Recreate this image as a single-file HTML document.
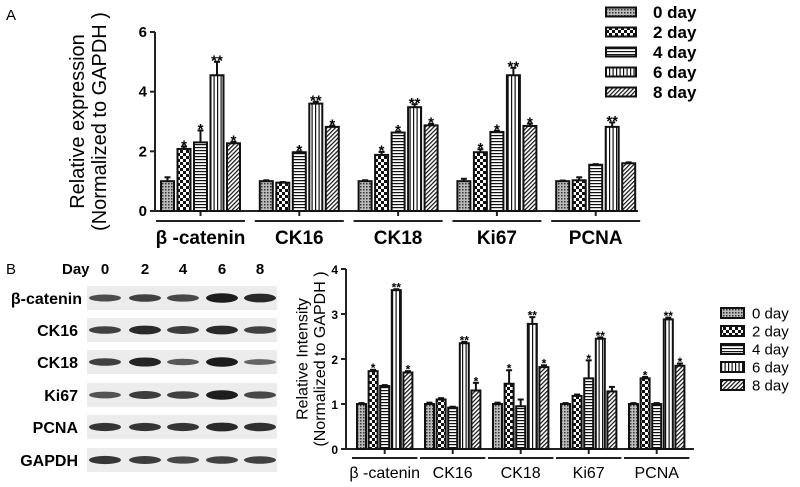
<!DOCTYPE html>
<html><head><meta charset="utf-8"><style>
body{margin:0;background:#fff;}
svg{display:block;font-family:"Liberation Sans",sans-serif;}
</style></head><body>
<svg id="fig" width="800" height="487" viewBox="0 0 800 487">
<defs>
<pattern id="p0" width="3" height="3" patternUnits="userSpaceOnUse"><rect width="3" height="3" fill="#bbb"/><rect width="1.5" height="1.5" fill="#333"/></pattern>
<pattern id="p1" width="6" height="6" patternUnits="userSpaceOnUse"><rect width="6" height="6" fill="#fff"/><rect width="3" height="3" fill="#111"/><rect x="3" y="3" width="3" height="3" fill="#111"/></pattern>
<pattern id="p2" width="4" height="3" patternUnits="userSpaceOnUse"><rect width="4" height="3" fill="#fff"/><rect width="4" height="1.2" fill="#111"/></pattern>
<pattern id="p3" width="3.5" height="4" patternUnits="userSpaceOnUse"><rect width="3.5" height="4" fill="#fff"/><rect width="1.2" height="4" fill="#111"/></pattern>
<pattern id="p4" width="3" height="3" patternUnits="userSpaceOnUse" patternTransform="rotate(45)"><rect width="3" height="3" fill="#fff"/><rect width="1.2" height="3" fill="#111"/></pattern>
</defs>
<text x="6" y="20" font-size="15">A</text>
<text x="6" y="274" font-size="15">B</text>
<g id="chartA"></g>
<g id="chartB"></g>
<g id="blot"></g>
</svg>
<script>
const categories = ["β -catenin","CK16","CK18","Ki67","PCNA"];
const seriesNames = ["0 day","2 day","4 day","6 day","8 day"];
const aValues = [[1.0,2.08,2.3,4.55,2.27],[1.0,0.95,1.97,3.6,2.82],[1.0,1.88,2.63,3.48,2.87],[1.0,1.97,2.65,4.55,2.85],[1.0,1.03,1.55,2.82,1.6]];
const aErrors = [[0.13,0.08,0.4,0.45,0.05],[0.03,0.02,0.03,0.06,0.04],[0.03,0.1,0.04,0.1,0.05],[0.08,0.1,0.04,0.25,0.08],[0.02,0.1,0.02,0.15,0.03]];
const aSig = [["","*","*","**","*"],["","","*","**","*"],["","*","*","**","*"],["","*","*","**","*"],["","","","**",""]];
const aTicks = [0,2,4,6];
const bValues = [[1.0,1.73,1.4,3.53,1.7],[1.0,1.1,0.92,2.35,1.3],[1.0,1.45,0.95,2.78,1.82],[1.0,1.18,1.57,2.45,1.28],[1.0,1.57,1.0,2.88,1.85]];
const bErrors = [[0.02,0.03,0.02,0.02,0.03],[0.03,0.03,0.02,0.03,0.17],[0.03,0.3,0.15,0.15,0.04],[0.02,0.03,0.4,0.03,0.1],[0.02,0.03,0.02,0.04,0.05]];
const bSig = [["","*","","**","*"],["","","","**","*"],["","*","","**","*"],["","","*","**",""],["","*","","**","*"]];
const bTicks = [0,1,2,3,4];
const blotRows = ["β-catenin","CK16","CK18","Ki67","PCNA","GAPDH"];
const blotDays = ["0","2","4","6","8"];
const blotIntensity = [[0.5,0.6,0.55,0.9,0.8],[0.6,0.8,0.65,0.8,0.6],[0.6,0.85,0.4,0.9,0.3],[0.45,0.65,0.6,0.9,0.55],[0.7,0.7,0.7,0.8,0.75],[0.7,0.65,0.55,0.6,0.6]];

const NS="http://www.w3.org/2000/svg";
function mk(parent,tag,attrs){const e=document.createElementNS(NS,tag);for(const k in attrs)e.setAttribute(k,attrs[k]);parent.appendChild(e);return e;}

function drawChart(g,cfg){
  const y=v=>cfg.y0-(v/cfg.max)*(cfg.y0-cfg.yTop);
  const xBar=(gi,si)=>cfg.x0+gi*cfg.gPitch+si*cfg.bPitch;
  const ax=mk(g,'line',{x1:cfg.axX,y1:y(cfg.max),x2:cfg.axX,y2:cfg.y0,stroke:'#222','stroke-width':2});
  
  
  const bx=mk(g,'line',{x1:cfg.axX,y1:cfg.y0,x2:cfg.xEnd,y2:cfg.y0,stroke:'#222','stroke-width':2});
  
  
  cfg.ticks.forEach(t=>{
    mk(g,'line',{x1:cfg.axX-5,y1:y(t),x2:cfg.axX,y2:y(t),stroke:'#222','stroke-width':2});
    const tl=mk(g,'text',{x:cfg.axX-8,y:y(t)+5,'font-size':cfg.tickFs,'font-weight':'bold','text-anchor':'end'});
    tl.textContent=t;
    
    
  });
  const yt=mk(g,'text',{transform:`translate(${cfg.titleX},${(cfg.y0+y(cfg.max))/2}) rotate(-90)`,'font-size':cfg.titleFs,'text-anchor':'middle'});
  
  
  const t1=mk(yt,'tspan',{x:0,dy:-cfg.titleFs*0.15});t1.textContent=cfg.title1;
  const t2=mk(yt,'tspan',{x:0,dy:cfg.titleFs*1.1});t2.textContent="(Normalized to GAPDH )";
  cfg.values.forEach((grp,gi)=>{
    const gx0=xBar(gi,0), gx1=xBar(gi,4)+cfg.bw;
    const mid=(gx0+gx1)/2;
    mk(g,'line',{x1:mid,y1:cfg.y0,x2:mid,y2:cfg.y0+5,stroke:'#222','stroke-width':2});
    const ul=mk(g,'line',{x1:gx0-5,y1:cfg.y0+cfg.ulOff,x2:gx1+5,y2:cfg.y0+cfg.ulOff,stroke:'#222','stroke-width':2});
    
    
    const cl=mk(g,'text',{x:mid,y:cfg.y0+cfg.labOff,'font-size':cfg.catFs,'font-weight':cfg.catW,'text-anchor':'middle'});
    cl.textContent=categories[gi];
    
    
    grp.forEach((v,si)=>{
      const x=xBar(gi,si), top=y(v), e=cfg.errors[gi][si];
      const et=y(v+e);
      mk(g,'line',{x1:x+cfg.bw/2,y1:top,x2:x+cfg.bw/2,y2:et,stroke:'#111','stroke-width':2});
      mk(g,'line',{x1:x+cfg.bw/2-3,y1:et,x2:x+cfg.bw/2+3,y2:et,stroke:'#111','stroke-width':2});
      const r=mk(g,'rect',{x:x,y:top,width:cfg.bw,height:cfg.y0-top,fill:`url(#p${si})`,stroke:'#111','stroke-width':2});
      
      
      const s=cfg.sig[gi][si];
      if(s){const st=mk(g,'text',{x:x+cfg.bw/2,y:et-3+cfg.sigFs*0.45,'font-size':cfg.sigFs,'font-weight':'bold','text-anchor':'middle'});
        st.textContent=s;
        
        }
    });
  });
  seriesNames.forEach((n,i)=>{
    const ly=cfg.legY+i*cfg.legStep;
    const lr=mk(g,'rect',{x:cfg.legX,y:ly-cfg.legH/2,width:cfg.legW,height:cfg.legH,fill:`url(#p${i})`,stroke:'#111','stroke-width':2});
    
    
    const lt=mk(g,'text',{x:cfg.legTX,y:ly+cfg.legFs*0.36,'font-size':cfg.legFs,'font-weight':cfg.legW2});
    lt.textContent=n;
    
    
  });
}
drawChart(document.getElementById('chartA'),{values:aValues,errors:aErrors,sig:aSig,ticks:aTicks,max:6,y0:211,yTop:32,axX:155,xEnd:638,
  x0:161,gPitch:98.8,bPitch:16.5,bw:13,ulOff:10,labOff:33,catFs:19,catW:'bold',tickFs:15,sigFs:15,
  title1:"Relative expression",titleX:87,titleFs:20,
  legX:606,legW:30,legH:9,legY:12,legStep:20,legTX:653,legFs:17,legW2:'bold'});
drawChart(document.getElementById('chartB'),{values:bValues,errors:bErrors,sig:bSig,ticks:bTicks,max:4,y0:449,yTop:269,axX:346,xEnd:694,
  x0:357,gPitch:68,bPitch:11.6,bw:9,ulOff:9,labOff:29,catFs:16,catW:'normal',tickFs:12,sigFs:12,
  title1:"Relative Intensity",titleX:310,titleFs:16,
  legX:721,legW:23,legH:10,legY:313,legStep:18,legTX:752,legFs:15,legW2:'normal'});

const bg=document.getElementById('blot');
const dl=mk(bg,'text',{x:62,y:274,'font-size':15,'font-weight':'bold'});dl.textContent="Day";


const laneX=[105,145,183,222,260];
blotDays.forEach((d,i)=>{const t=mk(bg,'text',{x:laneX[i],y:274,'font-size':15,'font-weight':'bold','text-anchor':'middle'});t.textContent=d;
  
  });
const rowY=[286,318,350,383,415,448];
blotRows.forEach((r,ri)=>{
  const y0=rowY[ri];
  const pr=mk(bg,'rect',{x:87,y:y0,width:190,height:24,fill:'#ececec'});
  
  
  const lab=mk(bg,'text',{x:ri==0?82:78,y:y0+18,'font-size':16,'font-weight':'bold','text-anchor':'end'});lab.textContent=r;
  
  
  blotIntensity[ri].forEach((v,li)=>{
    const b=mk(bg,'ellipse',{cx:laneX[li],cy:y0+12,rx:16,ry:2+v*3,fill:'#111',opacity:0.45+v*0.55});
    
    
  });
});
</script>
</body></html>
